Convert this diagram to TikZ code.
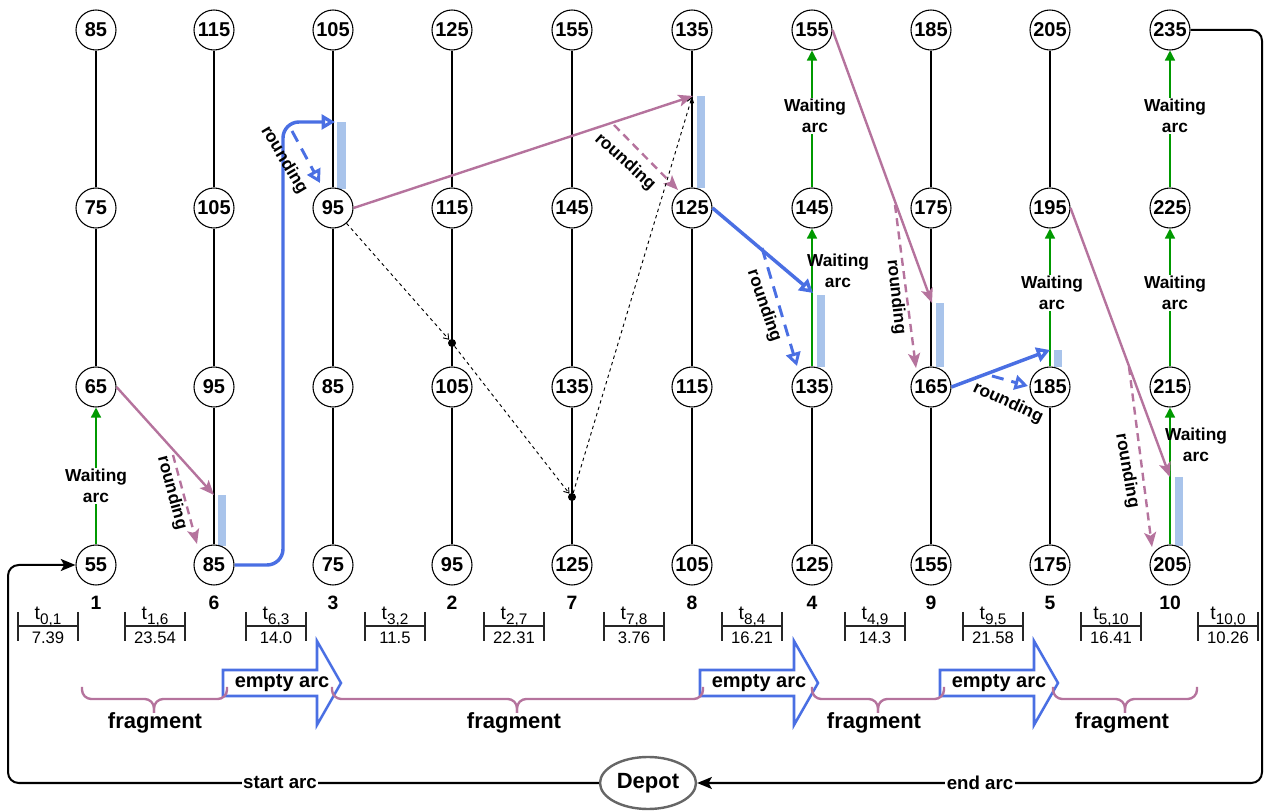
\documentclass[tikz,border=0pt]{standalone}
\usepackage{fontspec}
\setmainfont{Liberation Sans}
\usetikzlibrary{arrows.meta,shapes.geometric}
\definecolor{pk}{HTML}{B5739D}
\definecolor{bl}{HTML}{4A6FE3}
\definecolor{lb}{HTML}{A9C4EB}
\definecolor{gr}{HTML}{009900}
\definecolor{dg}{HTML}{666666}
\newcommand{\tsub}[1]{\raisebox{-0.4ex}{\fontsize{11.5}{13}\selectfont #1}}
\begin{document}
\begin{tikzpicture}[x=0.75pt,y=-0.75pt,
  tn/.style={circle,draw,line width=0.8pt,fill=white,minimum size=30pt,inner sep=0pt,font=\fontsize{15}{17}\selectfont\bfseries},
  cl/.style={font=\fontsize{14.5}{16}\selectfont\bfseries},
  vl/.style={line width=0.8pt},
  wa/.style={draw=gr,line width=1.1pt,-{Triangle[length=7.5pt,width=7.5pt]}},
  wl/.style={font=\fontsize{13}{16}\selectfont\bfseries,align=center,inner sep=1pt},
  rl/.style={font=\fontsize{13}{15}\selectfont\bfseries,inner sep=1pt},
  bar/.style={fill=lb,draw=none},
  pkarr/.style={draw=pk,line width=1.8pt,-{Stealth[length=11pt,width=9pt,inset=2.5pt]}},
  pkdash/.style={draw=pk,line width=1.8pt,dash pattern=on 6pt off 4pt,-{Stealth[length=11pt,width=9pt,inset=2.5pt]}},
  blarr/.style={draw=bl,line width=2.6pt,-{Triangle[open,length=10pt,width=11pt]}},
  bldash/.style={draw=bl,line width=2.2pt,dash pattern=on 9pt off 6pt,-{Triangle[open,length=10pt,width=11pt]}},
  bkdash/.style={draw=black,line width=0.7pt,dash pattern=on 2.5pt off 2.5pt,-{Straight Barb[length=3.5pt,width=5pt]}},
  dot/.style={circle,fill=black,inner sep=0pt,minimum size=6pt},
  brk/.style={draw=black!85,line width=1pt},
  frag/.style={draw=pk,line width=1.8pt,rounded corners=7pt},
  fl/.style={font=\fontsize{16.5}{18}\selectfont\bfseries},
  ea/.style={draw=bl,line width=1.9pt},
  eal/.style={font=\fontsize{15}{17}\selectfont\bfseries,inner sep=0pt},
  dep/.style={ellipse,draw=dg,line width=1.8pt,fill=white,minimum width=72pt,minimum height=39pt,inner sep=0pt,font=\fontsize{16.5}{18}\selectfont\bfseries},
  arcl/.style={font=\fontsize{14}{16}\selectfont\bfseries,fill=white,inner sep=1pt},
  mainarc/.style={draw=black,line width=1.5pt,rounded corners=8pt,-{Stealth[length=11pt,width=9pt,inset=2.5pt]}}
]
\useasboundingbox (0,0) rectangle (1272,812);

% light blue bars
\fill[bar] (218,495) rectangle (226,546);
\fill[bar] (337,122) rectangle (346,189);
\fill[bar] (697,96) rectangle (705,188);
\fill[bar] (817,295) rectangle (825,367);
\fill[bar] (936,303) rectangle (944,367);
\fill[bar] (1054,350) rectangle (1062,367);
\fill[bar] (1175,477) rectangle (1183,546);

% time nodes
\foreach \i/\x/\lab/\a/\b/\c/\d in {1/96/1/55/65/75/85, 2/214/6/85/95/105/115, 3/333/3/75/85/95/105,
  4/452/2/95/105/115/125, 5/572/7/125/135/145/155, 6/692/8/105/115/125/135, 7/812/4/125/135/145/155,
  8/931/9/155/165/175/185, 9/1050/5/175/185/195/205, 10/1170/10/205/215/225/235}{
  \node[tn] (c\i-0) at (\x,565) {\a};
  \node[tn] (c\i-1) at (\x,387) {\b};
  \node[tn] (c\i-2) at (\x,208) {\c};
  \node[tn] (c\i-3) at (\x,30) {\d};
  \node[cl] (lab\i) at (\x,603) {\lab};
}

% black vertical lines
\foreach \i/\s/\t in {1/1/2,1/2/3,2/0/1,2/1/2,2/2/3,3/0/1,3/1/2,3/2/3,4/0/1,4/1/2,4/2/3,
  5/0/1,5/1/2,5/2/3,6/0/1,6/1/2,6/2/3,7/0/1,8/0/1,8/1/2,8/2/3,9/0/1,9/2/3}{
  \draw[vl] (c\i-\s) -- (c\i-\t);
}
% green waiting arcs
\draw[wa] (c1-0) -- (c1-1);
\draw[wa] (c7-1) -- (c7-2);
\draw[wa] (c7-2) -- (c7-3);
\draw[wa] (c9-1) -- (c9-2);
\draw[wa] (c10-0) -- (c10-1);
\draw[wa] (c10-1) -- (c10-2);
\draw[wa] (c10-2) -- (c10-3);

\node[wl,fill=white] (w1) at (96,486) {Waiting\\arc};
\node[wl,fill=white] (w2) at (815,116) {Waiting\\arc};
\node[wl] (w3) at (838,271) {Waiting\\arc};
\node[wl,fill=white] (w4) at (1052,293) {Waiting\\arc};
\node[wl,fill=white] (w5) at (1175,293) {Waiting\\arc};
\node[wl,fill=white] (w6) at (1175,116) {Waiting\\arc};
\node[wl] (w7) at (1196,445) {Waiting\\arc};

% pink solid arrows
\coordinate (p1) at (214,495);
\coordinate (p2) at (693,96);
\coordinate (p3) at (932,303);
\coordinate (p4) at (1170,477);
\draw[pkarr] (c1-1.east) -- (p1);
\draw[pkarr] (c3-2.east) -- (p2);
\draw[pkarr] (c7-3.east) -- (p3);
\draw[pkarr] (c9-2.east) -- (p4);

% pink dashed rounding arrows
\coordinate (pd1s) at (173,455); \coordinate (pd1e) at (197,544);
\coordinate (pd2s) at (614,125); \coordinate (pd2e) at (678,190);
\coordinate (pd3s) at (895,205); \coordinate (pd3e) at (916,368);
\coordinate (pd4s) at (1129,367); \coordinate (pd4e) at (1152,547);
\draw[pkdash] (pd1s) -- (pd1e);
\draw[pkdash] (pd2s) -- (pd2e);
\draw[pkdash] (pd3s) -- (pd3e);
\draw[pkdash] (pd4s) -- (pd4e);

% blue solid arrows
\coordinate (b1) at (335,122);
\coordinate (b2) at (813,293);
\coordinate (b3) at (1050,350);
\draw[blarr,rounded corners=12pt] (c2-0.east) -- (283,565) -- (283,122) -- (b1);
\draw[blarr] (c6-2.east) -- (b2);
\draw[blarr] (c8-1.east) -- (b3);

% blue dashed rounding arrows
\coordinate (bd1s) at (292,131); \coordinate (bd1e) at (320,183);
\coordinate (bd2s) at (762,248); \coordinate (bd2e) at (797,366);
\coordinate (bd3s) at (992,376); \coordinate (bd3e) at (1028,386);
\draw[bldash] (bd1s) -- (bd1e);
\draw[bldash] (bd2s) -- (bd2e);
\draw[bldash] (bd3s) -- (bd3e);

% rounding labels
\node[rl,rotate=-75] (r1) at (172,493) {rounding};
\node[rl,rotate=-59] (r2) at (284,160) {rounding};
\node[rl,rotate=-42] (r3) at (625,162) {rounding};
\node[rl,rotate=-71] (r4) at (764,306) {rounding};
\node[rl,rotate=-84] (r5) at (896,297) {rounding};
\node[rl,rotate=-25] (r6) at (1008,403) {rounding};
\node[rl,rotate=-80] (r7) at (1127,471) {rounding};

% black dashed path
\node[dot] (d1) at (452,343) {};
\node[dot] (d2) at (572,497) {};
\coordinate (d3) at (692,97);
\draw[bkdash] (c3-2) -- (d1);
\draw[bkdash] (d1) -- (d2);
\draw[bkdash] (d2) -- (d3);

% travel time brackets
\foreach \x/\t/\v in {48/{0,1}/7.39, 155/{1,6}/23.54, 276/{6,3}/14.0, 395/{3,2}/11.5, 514/{2,7}/22.31,
  634/{7,8}/3.76, 752/{8,4}/16.21, 875/{4,9}/14.3, 993/{9,5}/21.58, 1111/{5,10}/16.41, 1228/{10,0}/10.26}{
  \draw[brk] (\x-30,612) -- (\x-30,641) (\x-30,626) -- (\x+30,626) (\x+30,612) -- (\x+30,641);
  \node[font=\fontsize{14.5}{16}\selectfont,anchor=base,inner sep=0pt] (tt\x) at (\x,620) {t\tsub{\t}};
  \node[font=\fontsize{12.5}{14}\selectfont,anchor=base,inner sep=0pt] (tv\x) at (\x,644) {\v};
}

% empty arc block arrows
\foreach \x in {223,700,940}{
  \draw[ea] (\x,670) -- (\x+94,670) -- (\x+94,641) -- (\x+118,683) -- (\x+94,725) -- (\x+94,696) -- (\x,696) -- cycle;
  \node[eal] (e\x) at (\x+59,683) {empty arc};
}

% fragment braces
\foreach \a/\b/\m in {82/227/154, 332/703/517, 812/944/878, 1053/1197/1125}{
  \draw[frag] (\a,687) -- (\a,699) -- (\m,699) -- (\m,713);
  \draw[frag] (\b,687) -- (\b,699) -- (\m,699) -- (\m,713);
}
\node[fl] (f1) at (155,723) {fragment};
\node[fl] (f2) at (514,723) {fragment};
\node[fl] (f3) at (874,723) {fragment};
\node[fl] (f4) at (1122,723) {fragment};

% depot and start / end arcs
\node[dep] (depot) at (648,783) {Depot};
\draw[mainarc] (depot.west) -- (8,783) -- (8,565) -- (c1-0.west);
\draw[mainarc] (c10-3.east) -- (1262,30) -- (1262,783) -- (depot.east);
\node[arcl] (sa) at (280,783) {start arc};
\node[arcl] (ea) at (980,783) {end arc};
\end{tikzpicture}
\end{document}
